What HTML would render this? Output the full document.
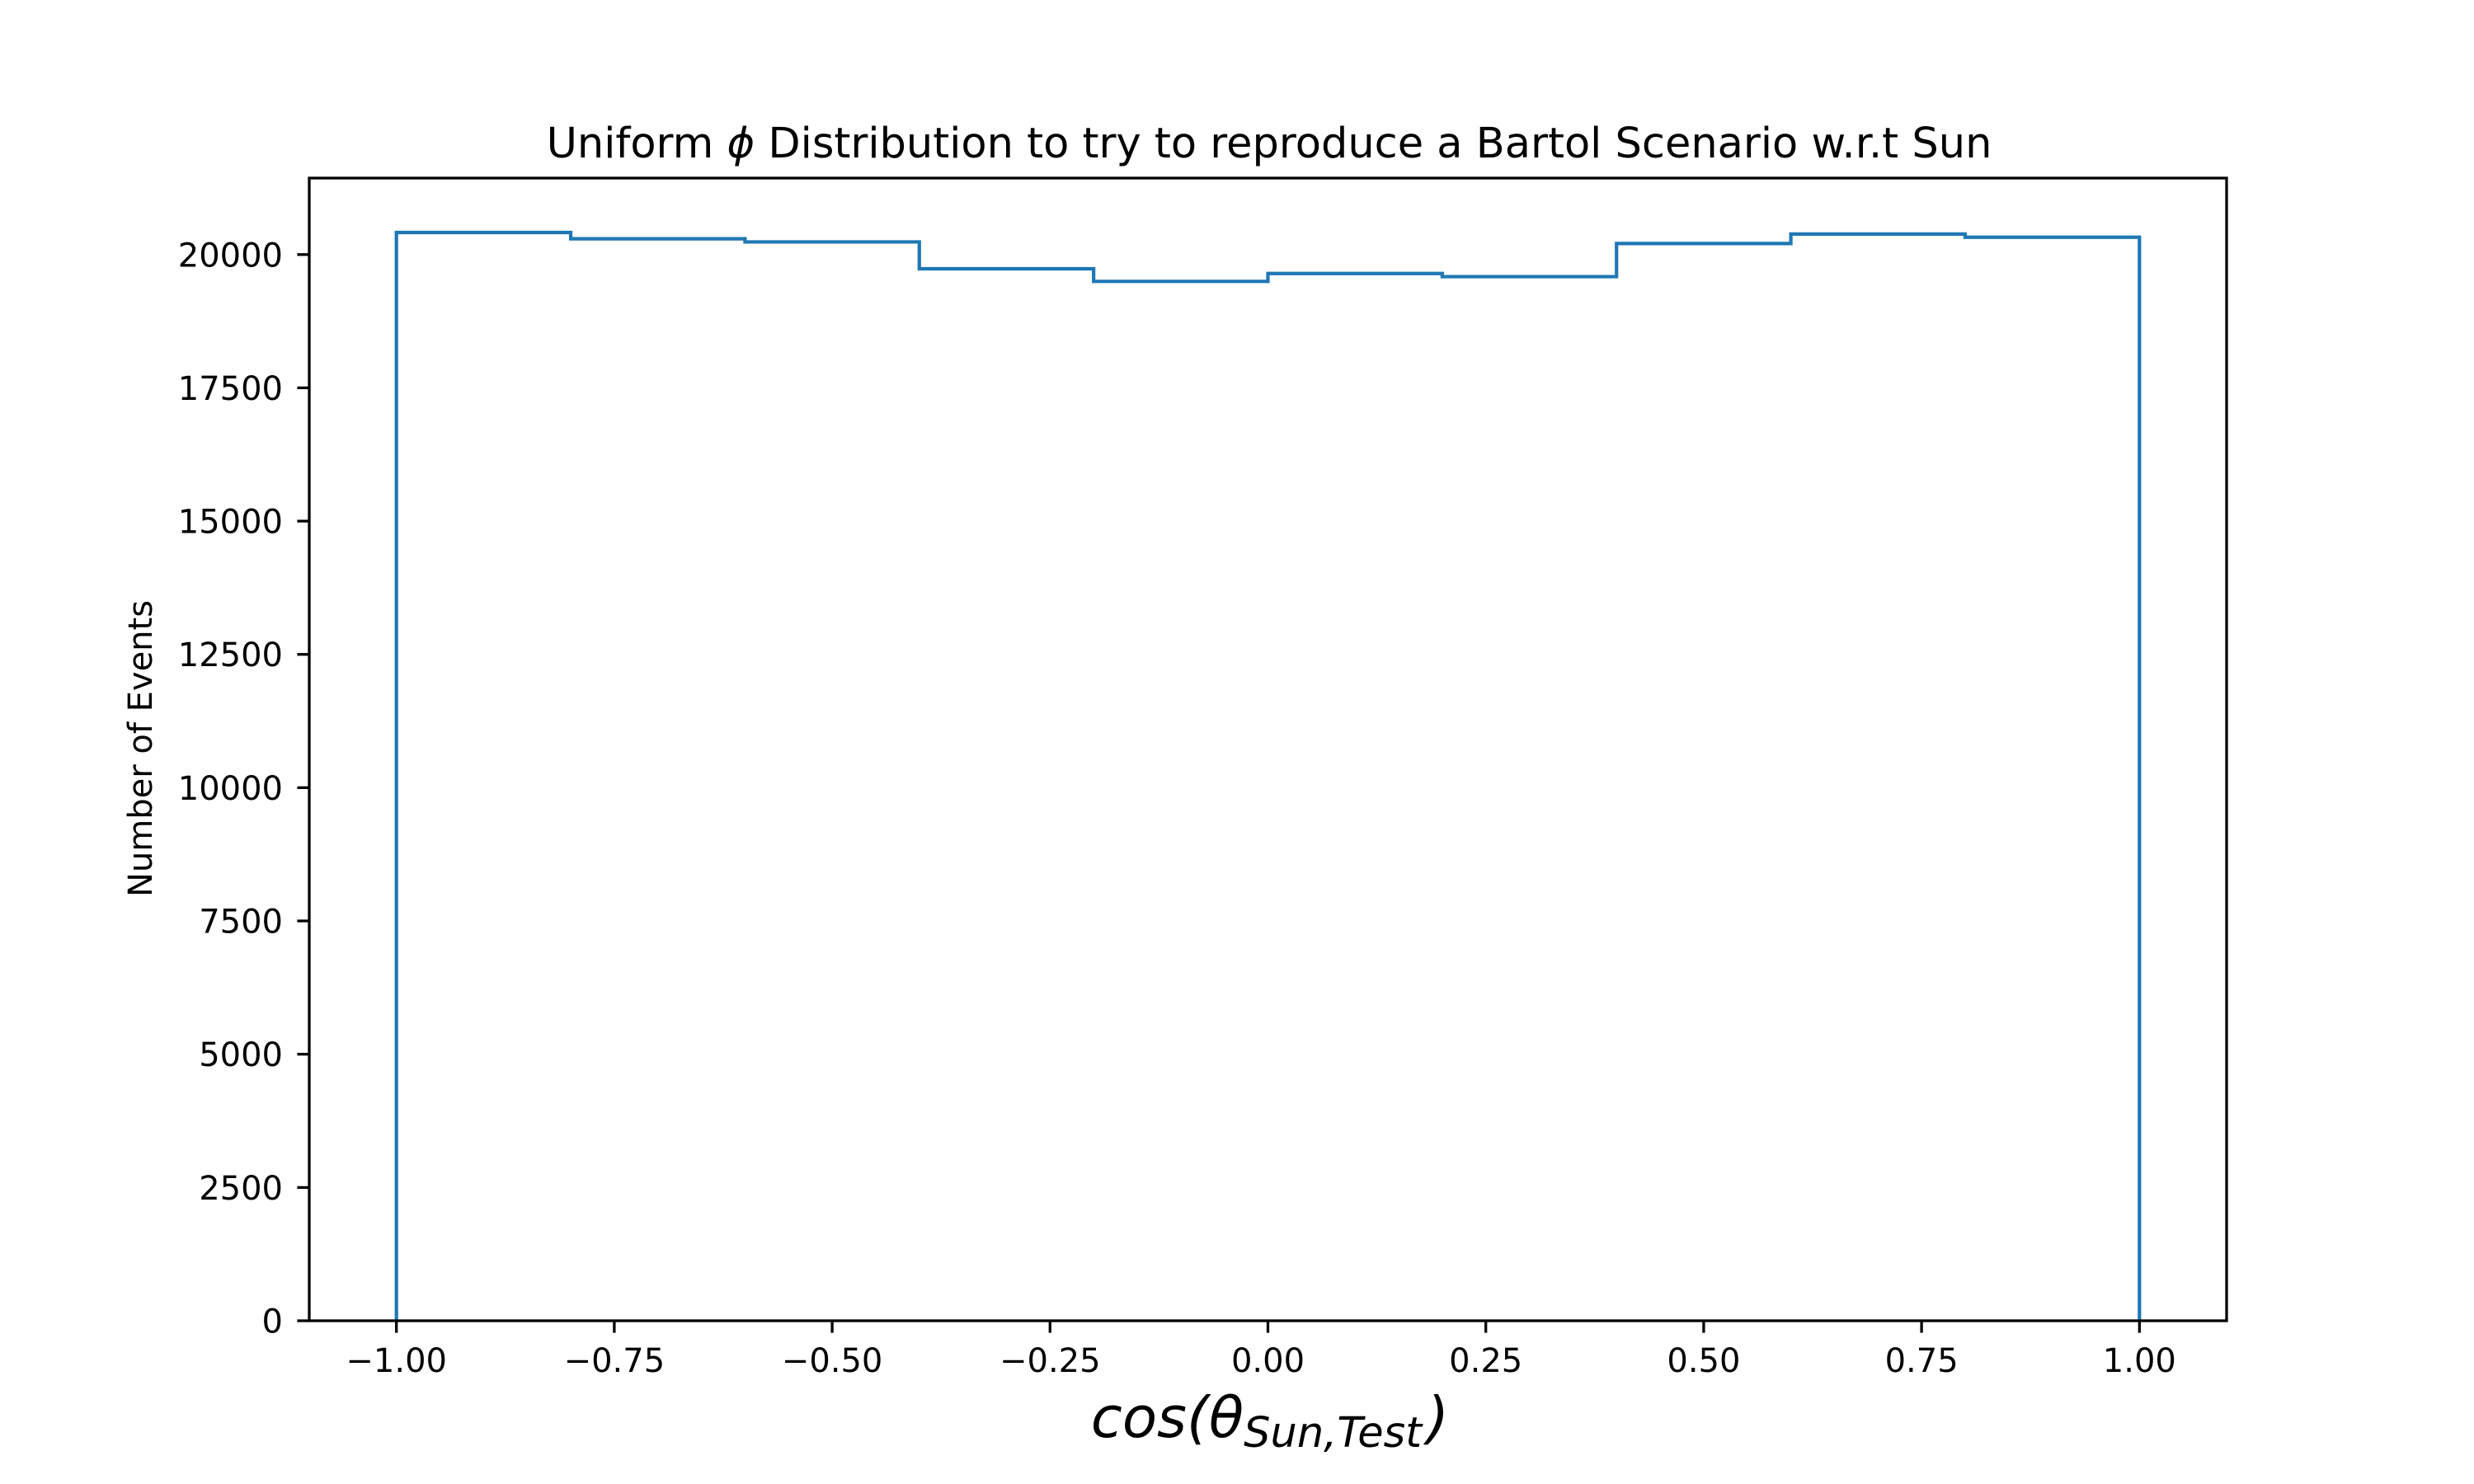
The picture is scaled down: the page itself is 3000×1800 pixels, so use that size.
<!DOCTYPE html>
<html><head><meta charset="utf-8"><style>
html,body{margin:0;padding:0;background:#fff;}
svg{display:block;font-family:"DejaVu Sans","Liberation Sans",sans-serif;}
</style></head><body>
<svg id="chart" width="3000" height="1800" viewBox="0 0 3000 1800" xmlns="http://www.w3.org/2000/svg">
<rect width="3000" height="1800" fill="#fff"/>
<text x="1539" y="191" font-size="51" text-anchor="middle">Uniform <tspan font-style="italic">ϕ</tspan> Distribution to try to reproduce a Bartol Scenario w.r.t Sun</text>
<g id="ticks"></g>
<path id="hist" fill="none" stroke="#1f77b4" stroke-width="4.2"/>
<rect x="375" y="216" width="2325" height="1386" fill="none" stroke="#000" stroke-width="3.3"/>
<text transform="translate(184,908) rotate(-90)" font-size="40" text-anchor="middle">Number of Events</text>
<text x="1540" y="1743" font-size="69" text-anchor="middle" font-style="italic">cos(θ<tspan font-size="51" dy="12">Sun,Test</tspan><tspan dy="-12" dx="6">)</tspan></text>
</svg>
<script>
const binEdges = [-1.0,-0.8,-0.6,-0.4,-0.2,0.0,0.2,0.4,0.6,0.8,1.0];
const binCounts = [20414,20296,20237,19734,19497,19645,19586,20207,20385,20325];
const xTicks = [-1.0,-0.75,-0.5,-0.25,0.0,0.25,0.5,0.75,1.0];
const xTickLabels = ["\u22121.00","\u22120.75","\u22120.50","\u22120.25","0.00","0.25","0.50","0.75","1.00"];
const yTicks = [0,2500,5000,7500,10000,12500,15000,17500,20000];
const yTickLabels = ["0","2500","5000","7500","10000","12500","15000","17500","20000"];

const L=375,R=2700,T=216,B=1602;
const xMin=-1.1,xMax=1.1;
const yMax=Math.max(...binCounts)*1.05;
const xs=v=>L+(v-xMin)/(xMax-xMin)*(R-L);
const ys=v=>B-v/yMax*(B-T);
const NS="http://www.w3.org/2000/svg";

let d=`M${xs(binEdges[0])},${ys(0)}`;
for(let i=0;i<binCounts.length;i++){
  d+=` L${xs(binEdges[i])},${ys(binCounts[i])} L${xs(binEdges[i+1])},${ys(binCounts[i])}`;
}
d+=` L${xs(binEdges[binEdges.length-1])},${ys(0)}`;
document.getElementById('hist').setAttribute('d',d);

const tg=document.getElementById('ticks');
xTicks.forEach((v,i)=>{
  const x=xs(v);
  const ln=document.createElementNS(NS,'line');
  ln.setAttribute('x1',x);ln.setAttribute('x2',x);ln.setAttribute('y1',B);ln.setAttribute('y2',B+14.6);
  ln.setAttribute('stroke','#000');ln.setAttribute('stroke-width','3.3');
  
  
  tg.appendChild(ln);
  const t=document.createElementNS(NS,'text');
  t.setAttribute('x',x);t.setAttribute('y',1664);t.setAttribute('font-size','40');t.setAttribute('text-anchor','middle');
  t.textContent=xTickLabels[i];
  
  
  tg.appendChild(t);
});
yTicks.forEach((v,i)=>{
  const y=ys(v);
  const ln=document.createElementNS(NS,'line');
  ln.setAttribute('x1',L-14.6);ln.setAttribute('x2',L);ln.setAttribute('y1',y);ln.setAttribute('y2',y);
  ln.setAttribute('stroke','#000');ln.setAttribute('stroke-width','3.3');
  
  
  tg.appendChild(ln);
  const t=document.createElementNS(NS,'text');
  t.setAttribute('x',343);t.setAttribute('y',y+14.5);t.setAttribute('font-size','40');t.setAttribute('text-anchor','end');
  t.textContent=yTickLabels[i];
  
  
  tg.appendChild(t);
});
</script>
</body></html>
